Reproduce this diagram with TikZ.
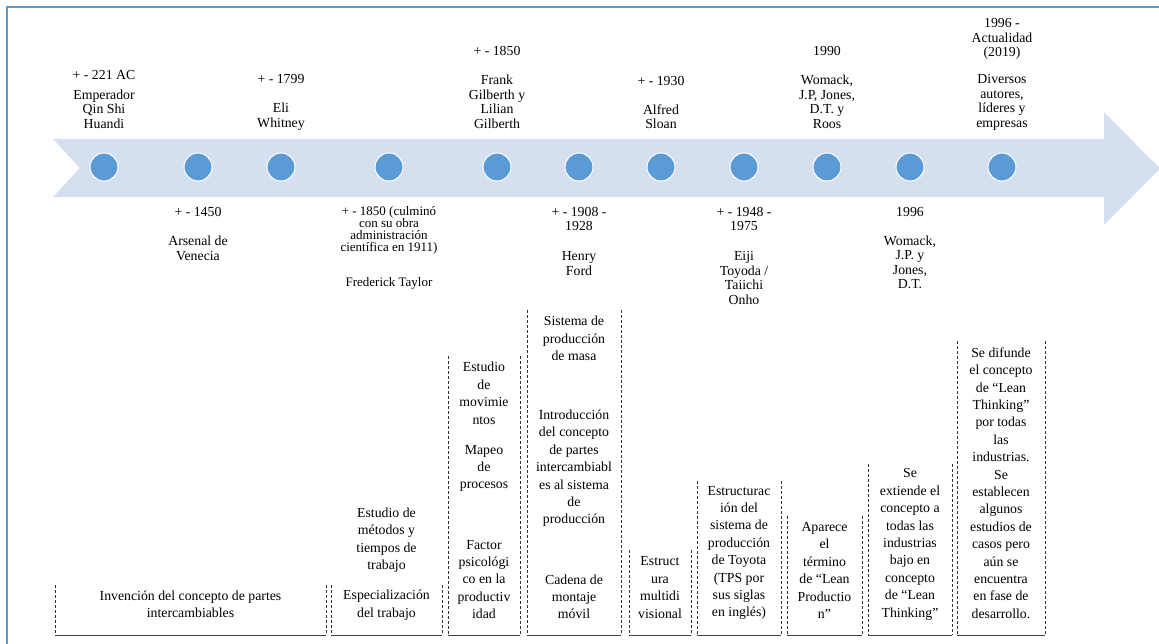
\documentclass[tikz,border=0pt]{standalone}
\usepackage{fontspec}
\setmainfont{Liberation Serif}
\definecolor{bandblue}{RGB}{213,223,239}
\definecolor{dotblue}{RGB}{91,155,213}
\definecolor{rimblue}{RGB}{91,155,213}

% dashed-sided box with a solid base: name, left x, right x, top y
\newcommand\tlbox[4]{%
  \coordinate (#1-tl) at (#2,#4);
  \coordinate (#1-bl) at (#2,635);
  \coordinate (#1-tr) at (#3,#4);
  \coordinate (#1-br) at (#3,635);
  \draw[boxside] (#1-tl) -- (#1-bl);
  \draw[boxside] (#1-tr) -- (#1-br);
  \draw[boxbase] (#1-bl) -- (#1-br);
}

\begin{document}
\begin{tikzpicture}[x=1pt,y=-1pt,
  dot/.style={circle,fill=dotblue,draw=white,line width=1pt,minimum size=28pt,inner sep=0pt},
  lbl/.style={align=center,inner sep=0pt,font=\rmfamily\fontsize{13.8}{14.5}\selectfont},
  tight/.style={align=center,inner sep=0pt,font=\rmfamily\fontsize{13}{12}\selectfont},
  boxtxt/.style={align=center,inner sep=0pt,font=\rmfamily\fontsize{13.8}{17.4}\selectfont},
  boxside/.style={draw=black!80,line width=0.9pt,dash pattern=on 3pt off 2pt},
  boxbase/.style={draw=black!75,line width=1pt},
]
\useasboundingbox (0,0) rectangle (1159,644);
\fill[white] (0,0) rectangle (1159,644);
\clip (0,0) rectangle (1159,644);

% outer frame
\draw[rimblue,line width=2pt] (7,660) -- (7,7) -- (1175,7);

% timeline band with arrow head
\fill[bandblue] (53,139) -- (1104,139) -- (1104,112) -- (1160,168.5) -- (1104,225)
  -- (1104,197) -- (53,197) -- (80,168) -- cycle;

% milestones
\node[dot] (d1)  at (104,167) {};
\node[dot] (d2)  at (198,167) {};
\node[dot] (d3)  at (281,167) {};
\node[dot] (d4)  at (389,167) {};
\node[dot] (d5)  at (497,167) {};
\node[dot] (d6)  at (579,167) {};
\node[dot] (d7)  at (661,167) {};
\node[dot] (d8)  at (744,167) {};
\node[dot] (d9)  at (827,167) {};
\node[dot] (d10) at (910,167) {};
\node[dot] (d11) at (1002,167) {};

% labels above the band
\node[lbl] (t1) at (104,99.5) {+ - 221 AC\\[5.5pt]Emperador\\Qin Shi\\Huandi};
\node[lbl] (t3) at (281,102.5) {+ - 1799\\[14.5pt]Eli\\Whitney};
\node[lbl] (t5) at (497,87.5) {+ - 1850\\[14.5pt]Frank\\Gilberth y\\Lilian\\Gilberth};
\node[lbl] (t7) at (661,102.5) {+ - 1930\\[14.5pt]Alfred\\Sloan};
\node[lbl] (t9) at (827,87.5) {1990\\[14.5pt]Womack,\\J.P, Jones,\\D.T. y\\Roos};
\node[lbl] (t11) at (1002,74.5) {1996 -\\Actualidad\\(2019)\\[12.5pt]Diversos\\autores,\\líderes y\\empresas};

% labels below the band
\node[lbl] (b2) at (198,234) {+ - 1450\\[14.5pt]Arsenal de\\Venecia};
\node[tight] (b4) at (389,248) {+ - 1850 (culminó\\con su obra\\administración\\científica en 1911)\\[23pt]Frederick Taylor};
\node[lbl] (b6) at (579,241) {+ - 1908 -\\1928\\[15.5pt]Henry\\Ford};
\node[lbl] (b8) at (744,255.5) {+ - 1948 -\\1975\\[15.5pt]Eiji\\Toyoda /\\Taiichi\\Onho};
\node[lbl] (b10) at (910,248) {1996\\[14.5pt]Womack,\\J.P. y\\Jones,\\D.T.};

% contribution boxes
\tlbox{c1}{55}{326}{585}
\tlbox{c2}{331}{442}{585}
\tlbox{c3}{448}{520}{356}
\tlbox{c4}{527}{621}{310}
\tlbox{c5}{629}{691}{550}
\tlbox{c6}{697}{781}{481}
\tlbox{c7}{787}{862}{516}
\tlbox{c8}{868}{952}{464}
\tlbox{c9}{957}{1045}{341}

\node[boxtxt] (x1) at (190.5,604.5) {Invención del concepto de partes\\intercambiables};
\node[boxtxt] (x2) at (386.5,564) {Estudio de\\métodos y\\tiempos de\\trabajo\\[13pt]Especialización\\del trabajo};
\node[boxtxt] (x3) at (484,490.5) {Estudio\\de\\movimie\\ntos\\[12.7pt]Mapeo\\de\\procesos\\[42.7pt]Factor\\psicológi\\co en la\\productiv\\idad};
\node[boxtxt] (x4) at (574,467.5) {Sistema de\\producción\\de masa\\[41.7pt]Introducción\\del concepto\\de partes\\intercambiabl\\es al sistema\\de\\producción\\[42.7pt]Cadena de\\montaje\\móvil};
\node[boxtxt] (x5) at (660,587.5) {Estruct\\ura\\multidi\\visional};
\node[boxtxt] (x6) at (739,553) {Estructurac\\ión del\\sistema de\\producción\\de Toyota\\(TPS por\\sus siglas\\en inglés)};
\node[boxtxt] (x7) at (824.5,570.5) {Aparece\\el\\término\\de “Lean\\Productio\\n”};
\node[boxtxt] (x8) at (910,544.5) {Se\\extiende el\\concepto a\\todas las\\industrias\\bajo en\\concepto\\de “Lean\\Thinking”};
\node[boxtxt] (x9) at (1001,483) {Se difunde\\el concepto\\de “Lean\\Thinking”\\por todas\\las\\industrias.\\Se\\establecen\\algunos\\estudios de\\casos pero\\aún se\\encuentra\\en fase de\\desarrollo.};
\end{tikzpicture}
\end{document}
